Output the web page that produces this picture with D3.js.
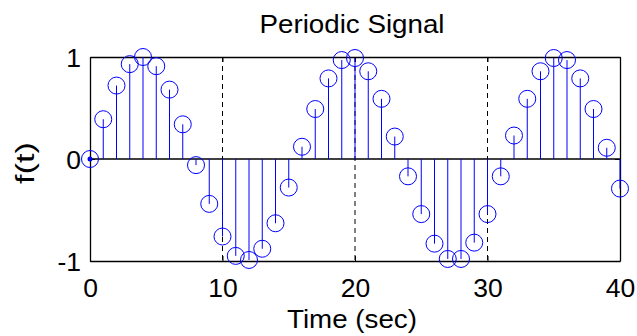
<!DOCTYPE html>
<html>
<head>
<meta charset="utf-8">
<script src="https://cdn.jsdelivr.net/npm/d3@7"></script>
<style>
  body { margin: 0; background: #fff; }
  text { font-family: "Liberation Sans", Arial, sans-serif; fill: #000; }
</style>
</head>
<body>
<div id="chartDiv"></div>
<script>
// sample times (sec)
var times = [0, 1, 2, 3, 4, 5, 6, 7, 8, 9, 10, 11, 12, 13, 14, 15, 16, 17, 18, 19, 20,
             21, 22, 23, 24, 25, 26, 27, 28, 29, 30, 31, 32, 33, 34, 35, 36, 37, 38, 39, 40];
// f(t)
var values = [0, 0.39, 0.72, 0.93, 1.0, 0.91, 0.68, 0.34, -0.06, -0.44, -0.76,
              -0.95, -0.99, -0.88, -0.63, -0.28, 0.12, 0.49, 0.79, 0.97, 0.99,
              0.86, 0.59, 0.22, -0.17, -0.54, -0.83, -0.98, -0.98, -0.82, -0.54,
              -0.17, 0.23, 0.59, 0.86, 0.99, 0.97, 0.79, 0.49, 0.11, -0.29];
var xTicks = [0, 10, 20, 30, 40];
var yTicks = [-1, 0, 1];
var gridX = [10, 20, 30];

var width = 637, height = 336;
var margin = { top: 57, right: 17, bottom: 75, left: 90 };
var chartWidth = width - margin.left - margin.right;
var chartHeight = height - margin.top - margin.bottom;

var svg = d3.select("#chartDiv").append("svg")
  .attr("width", width)
  .attr("height", height);

var xScale = d3.scaleLinear().domain([0, 40]).range([0, chartWidth]);
var yScale = d3.scaleLinear().domain([-1, 1]).range([chartHeight, 0]);

var plot = svg.append("g")
  .attr("transform", "translate(" + margin.left + "," + margin.top + ")");

// dashed x grid
plot.selectAll(".grid")
  .data(gridX)
  .enter().append("line")
    .attr("class", "grid")
    .attr("x1", function(d) { return xScale(d); })
    .attr("x2", function(d) { return xScale(d); })
    .attr("y1", 0)
    .attr("y2", chartHeight)
    .attr("stroke", "#000")
    .attr("stroke-width", 1)
    .attr("stroke-dasharray", "5,4");

// plain hyphen for negatives, like the original
var fmt = function(d) { return String(d); };

// axes (ticks pointing inward)
var xAxis = d3.axisBottom(xScale).tickValues(xTicks).tickSize(-5).tickSizeOuter(0).tickFormat(fmt);
var xAxisTop = d3.axisTop(xScale).tickValues(xTicks).tickSize(-5).tickSizeOuter(0).tickFormat("");
var yAxis = d3.axisLeft(yScale).tickValues(yTicks).tickSize(-5).tickSizeOuter(0).tickFormat(fmt);
var yAxisRight = d3.axisRight(yScale).tickValues(yTicks).tickSize(-5).tickSizeOuter(0).tickFormat("");

var gx = plot.append("g").attr("transform", "translate(0," + chartHeight + ")").call(xAxis);
plot.append("g").call(xAxisTop);
var gy = plot.append("g").call(yAxis);
plot.append("g").attr("transform", "translate(" + chartWidth + ",0)").call(yAxisRight);

svg.selectAll(".domain").attr("stroke", "#000").attr("stroke-width", 1.3);
svg.selectAll(".tick line").attr("stroke", "#000");

gx.selectAll("text")
  .attr("font-size", "26.5px")
  .attr("dy", null)
  .attr("y", 36);
gy.selectAll("text")
  .attr("font-size", "26.5px")
  .attr("x", -9)
  .attr("dy", "0.36em");

// baseline
plot.append("line")
  .attr("x1", 0).attr("x2", chartWidth)
  .attr("y1", yScale(0)).attr("y2", yScale(0))
  .attr("stroke", "#000").attr("stroke-width", 1.3);

// stems
var pts = times.map(function(t, i) { return { t: t, v: values[i] }; });

plot.selectAll(".stem")
  .data(pts)
  .enter().append("line")
    .attr("class", "stem")
    .attr("x1", function(d) { return xScale(d.t); })
    .attr("x2", function(d) { return xScale(d.t); })
    .attr("y1", yScale(0))
    .attr("y2", function(d) { return yScale(d.v); })
    .attr("stroke", "#0000ff")
    .attr("stroke-width", 1);

plot.selectAll(".dot")
  .data(pts)
  .enter().append("circle")
    .attr("class", "dot")
    .attr("cx", function(d) { return xScale(d.t); })
    .attr("cy", function(d) { return yScale(d.v); })
    .attr("r", 8.5)
    .attr("fill", "none")
    .attr("stroke", "#0000ff")
    .attr("stroke-width", 1);

// small blob where the zero-length stem sits
plot.append("circle")
  .attr("cx", xScale(times[0]))
  .attr("cy", yScale(values[0]))
  .attr("r", 2.5)
  .attr("fill", "#0000ff");

// labels (the original glyphs are a bit wide, so stretch them)
svg.append("text")
  .attr("x", 352)
  .attr("y", 33)
  .attr("text-anchor", "middle")
  .attr("font-size", "25px")
  .attr("textLength", 185)
  .attr("lengthAdjust", "spacingAndGlyphs")
  .text("Periodic Signal");

svg.append("text")
  .attr("x", 352)
  .attr("y", 328)
  .attr("text-anchor", "middle")
  .attr("font-size", "25px")
  .attr("textLength", 130)
  .attr("lengthAdjust", "spacingAndGlyphs")
  .text("Time (sec)");

svg.append("text")
  .attr("transform", "translate(34,163) rotate(-90)")
  .attr("text-anchor", "middle")
  .attr("font-size", "25px")
  .attr("textLength", 42)
  .attr("lengthAdjust", "spacingAndGlyphs")
  .text("f(t)");
</script>
</body>
</html>
